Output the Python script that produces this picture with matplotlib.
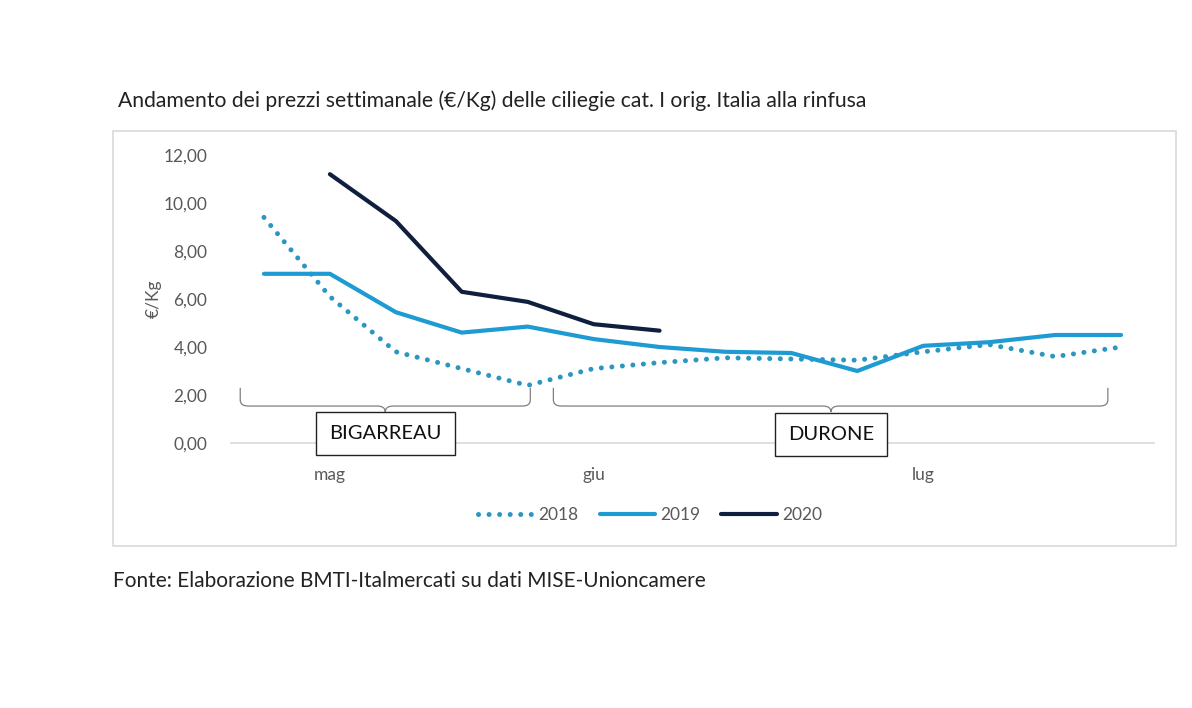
import matplotlib.pyplot as plt
from matplotlib.path import Path
from matplotlib.patches import PathPatch, Rectangle

plt.rcParams['font.family'] = ['Lato', 'DejaVu Sans']

# weekly prices (€/Kg), 14 weeks from early May to late July
weeks = list(range(14))
p2018 = [9.4, 6.1, 3.8, 3.1, 2.4, 3.1, 3.35, 3.55, 3.5, 3.45, 3.8, 4.1, 3.6, 4.0]
p2019 = [7.05, 7.05, 5.45, 4.6, 4.85, 4.33, 4.0, 3.8, 3.75, 3.0, 4.05, 4.2, 4.5, 4.5]
p2020 = [None, 11.2, 9.25, 6.3, 5.88, 4.95, 4.68]
month_pos = [1, 5, 10]
month_labels = ["mag", "giu", "lug"]
yticks = [0, 2, 4, 6, 8, 10, 12]

c2018 = "#2b97c0"
c2019 = "#1e9bd2"
c2020 = "#0f1f3d"
gray = "#595959"

fig = plt.figure(figsize=(11.92, 7.08), dpi=100)

# outer chart frame
fig.patches.append(Rectangle((113 / 1192, 1 - 546 / 708), (1176 - 113) / 1192, (546 - 131) / 708,
                             transform=fig.transFigure, fill=False, edgecolor="#d9d9d9", lw=1.2))

fig.text(118 / 1192, 1 - 101 / 708, "Andamento dei prezzi settimanale (€/Kg) delle ciliegie cat. I orig. Italia alla rinfusa",
         fontsize=15.2, color="#222222", va="center", ha="left")
fig.text(113 / 1192, 1 - 581 / 708, "Fonte: Elaborazione BMTI-Italmercati su dati MISE-Unioncamere",
         fontsize=15, color="#222222", va="center", ha="left")

ax = fig.add_axes([231 / 1192, 1 - 443 / 708, (1154 - 231) / 1192, (443 - 155) / 708])
ax.set_xlim(-0.5, 13.5)
ax.set_ylim(0, 12)
ax.patch.set_alpha(0)

x2020 = [w for w, v in zip(weeks, p2020) if v is not None]
y2020 = [v for v in p2020 if v is not None]

l18, = ax.plot(weeks, p2018, color=c2018, lw=3.6, linestyle=(0, (0.01, 2.1)),
               dash_capstyle="round", label="2018", clip_on=False)
l19, = ax.plot(weeks, p2019, color=c2019, lw=3.0, solid_capstyle="round", label="2019", clip_on=False)
l20, = ax.plot(x2020, y2020, color=c2020, lw=3.0, solid_capstyle="round", label="2020", clip_on=False)

for s in ["top", "right", "left"]:
    ax.spines[s].set_visible(False)
ax.spines["bottom"].set_color("#d9d9d9")
ax.spines["bottom"].set_linewidth(1.2)

ax.set_yticks(yticks)
ax.set_yticklabels([f"{v:.2f}".replace(".", ",") for v in yticks], color=gray, fontsize=12.5)
ax.tick_params(axis="y", length=0, pad=17)
ax.set_xticks(month_pos)
ax.set_xticklabels(month_labels, color=gray, fontsize=12.5)
ax.tick_params(axis="x", length=0, pad=17)
ax.set_ylabel("€/Kg", color=gray, fontsize=12.5, labelpad=1)


def brace(x0, x1, xm, ytop, ymid, ytip, r=0.12, rv=0.25):
    verts = [(x0, ytop), (x0, ymid + rv), (x0, ymid), (x0 + r, ymid),
             (xm - r, ymid), (xm, ymid), (xm, ytip), (xm, ymid), (xm + r, ymid),
             (x1 - r, ymid), (x1, ymid), (x1, ymid + rv), (x1, ytop)]
    codes = [Path.MOVETO, Path.LINETO, Path.CURVE3, Path.CURVE3,
             Path.LINETO, Path.CURVE3, Path.CURVE3, Path.CURVE3, Path.CURVE3,
             Path.LINETO, Path.CURVE3, Path.CURVE3, Path.LINETO]
    ax.add_patch(PathPatch(Path(verts, codes), fill=False, edgecolor="#7f7f7f", lw=0.9, clip_on=False))


brace(-0.36, 4.04, 1.84, 2.3, 1.54, 1.29)
brace(4.39, 12.8, 8.6, 2.3, 1.54, 1.29)

box = dict(boxstyle="square,pad=0.65", facecolor="white", edgecolor="#222222", lw=1.0)
ax.text(1.84, 0.4, "BIGARREAU", ha="center", va="center", fontsize=14.5, color="#111111", bbox=box, zorder=5)
ax.text(8.6, 0.35, "DURONE", ha="center", va="center", fontsize=14.5, color="#111111", bbox=box, zorder=5)

fig.legend(handles=[l18, l19, l20], loc="center", bbox_to_anchor=(650 / 1192, 1 - 515 / 708),
           ncol=3, frameon=False, fontsize=12.5, handlelength=3.2, handletextpad=0.3,
           columnspacing=1.2, labelcolor=gray)

fig.savefig("out.png", dpi=100)
